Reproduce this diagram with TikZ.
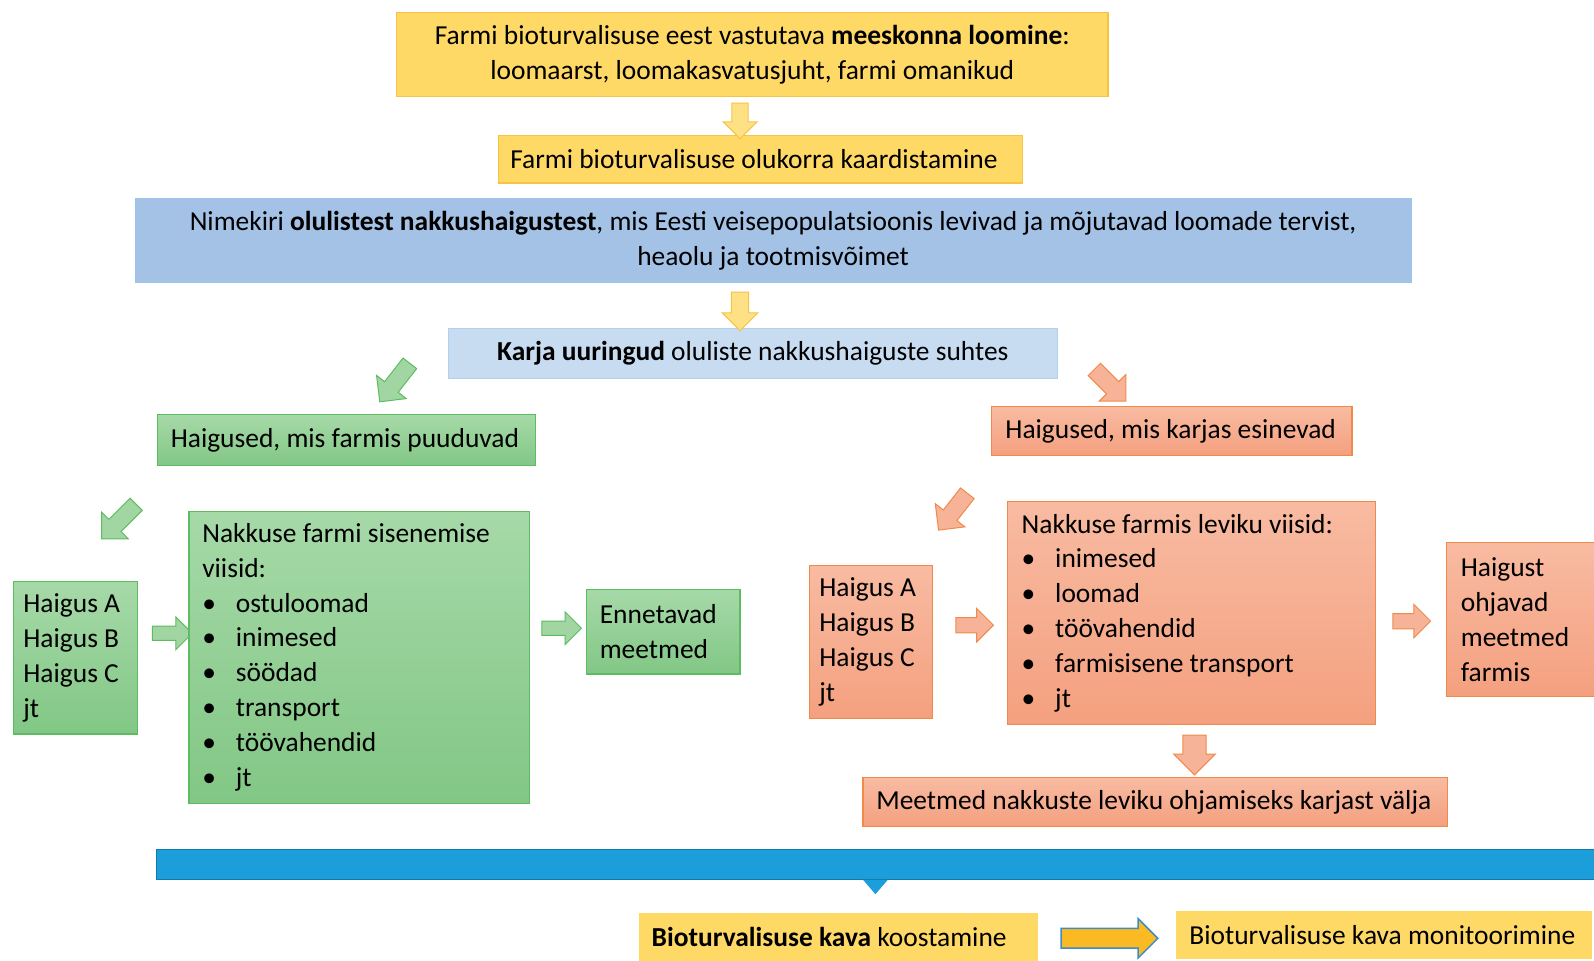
\documentclass[tikz,border=0pt]{standalone}
\usepackage{fontspec}
\setmainfont{Carlito}
\usetikzlibrary{shapes.arrows}

\definecolor{yfill}{HTML}{FFD966}
\definecolor{ybord}{HTML}{F6C344}
\definecolor{bfill}{HTML}{A3C2E6}
\definecolor{bbord}{HTML}{9CC3E8}
\definecolor{lbfill}{HTML}{C8DCF1}
\definecolor{lbbord}{HTML}{B2D0EE}
\definecolor{gtop}{HTML}{A6D9A8}
\definecolor{gbot}{HTML}{82C785}
\definecolor{gbord}{HTML}{5DBB61}
\definecolor{otop}{HTML}{F8BBA2}
\definecolor{obot}{HTML}{F4A07F}
\definecolor{obord}{HTML}{F08A4B}
\definecolor{barfill}{HTML}{1B9ED9}
\definecolor{barbord}{HTML}{1478A8}
\definecolor{kfill}{HTML}{FBBA24}
\definecolor{kbord}{HTML}{3C8CC6}

\newcommand{\itm}[1]{\makebox[33pt][l]{\textbullet}#1}
% one line of text, flush left in a fixed width
\newcommand{\lline}[2]{\makebox[#1pt][l]{#2}}

\tikzset{
    ybox/.style={draw=ybord, fill=yfill, line width=1.2pt, inner sep=0pt},
    bbox/.style={draw=bbord, fill=bfill, line width=1.2pt, inner sep=0pt},
    lbbox/.style={draw=lbbord, fill=lbfill, line width=1.2pt, inner sep=0pt},
    gbox/.style={draw=gbord, top color=gtop, bottom color=gbot, line width=1.2pt, inner ysep=0pt},
    obox/.style={draw=obord, top color=otop, bottom color=obot, line width=1.2pt, inner ysep=0pt},
    % block arrow: length, shaft width, head width
    blk/.style n args={3}{single arrow, inner xsep=0pt, inner ysep=#2/2, minimum height=#1,
        single arrow head extend={(#3-#2)/2}, line width=1pt},
    yarr/.style={draw=ybord, fill=yfill!80!white},
    garr/.style={draw=gbord, fill=gtop!85!gbot},
    oarr/.style={draw=obord, fill=otop!70!obot},
}

\begin{document}
\begin{tikzpicture}[x=1pt, y=-1pt, scale=1.0166, transform shape,
                    font=\fontsize{27}{34.3}\selectfont]
    \useasboundingbox (0,0) rectangle (1568,945.3);

    % top of the plan
    \node[ybox, minimum width=700, minimum height=83, align=center] (team) at (740,53.5)
        {Farmi bioturvalisuse eest vastutava \textbf{meeskonna loomine}:\\
         loomaarst, loomakasvatusjuht, farmi omanikud};
    \node[ybox, inner xsep=12, minimum height=47] (kaart) at (748,156.5)
        {\lline{492}{Farmi bioturvalisuse olukorra kaardistamine}};
    \node[bbox, minimum width=1255, minimum height=83, align=center] (nimek) at (760.5,236.5)
        {Nimekiri \textbf{olulistest nakkushaigustest}, mis Eesti veisepopulatsioonis levivad ja mõjutavad loomade tervist,\\
         heaolu ja tootmisvõimet};
    \node[lbbox, minimum width=599, minimum height=49] (karja) at (740.5,347.5)
        {\textbf{Karja uuringud} oluliste nakkushaiguste suhtes};

    \node[yarr, blk={35}{15}{32}, rotate=-90] (ar1) at (728,115) {};
    \node[yarr, blk={38}{16}{34}, rotate=-90] (ar2) at (728,302) {};

    % left branch: diseases missing from the farm
    \node[garr, blk={48}{16}{36}, rotate=-128] (ag1) at (391,373) {};
    \node[gbox, inner xsep=13, minimum height=50] (puudu) at (341,433)
        {\lline{346}{Haigused, mis farmis puuduvad}};
    \node[garr, blk={48}{16}{36}, rotate=-135] (ag2) at (120,510) {};
    \node[gbox, text width=102, inner xsep=10, minimum height=150, align=flush left] (ghaig) at (74,647)
        {Haigus A\\ Haigus B\\ Haigus C\\ jt};
    \node[garr, blk={39}{13}{31}] (ag3) at (166,623) {};
    \node[gbox, text width=309, inner xsep=13, minimum height=287, align=flush left] (gviis) at (353.5,646.5)
        {Nakkuse farmi sisenemise\\ viisid:\\ \itm{ostuloomad}\\ \itm{inimesed}\\ \itm{söödad}\\
         \itm{transport}\\ \itm{töövahendid}\\ \itm{jt}};
    \node[garr, blk={39}{13}{31}] (ag4) at (549,618) {};
    \node[gbox, text width=125, inner xsep=13, minimum height=83, align=flush left] (ennet) at (652.5,621.5)
        {Ennetavad\\ meetmed};

    % right branch: diseases present in the herd
    \node[oarr, blk={44}{16}{36}, rotate=-45] (ao1) at (1089,376) {};
    \node[obox, inner xsep=14, minimum height=48] (esine) at (1152.5,424)
        {\lline{327}{Haigused, mis karjas esinevad}};
    \node[oarr, blk={46}{16}{36}, rotate=-128] (ao2) at (940,500) {};
    \node[obox, text width=101, inner xsep=10, minimum height=151, align=flush left] (ohaig) at (856.5,631.5)
        {Haigus A\\ Haigus B\\ Haigus C\\ jt};
    \node[oarr, blk={37}{14}{32}] (ao3) at (955,615) {};
    \node[obox, text width=334, inner xsep=14, minimum height=220, align=flush left] (oviis) at (1172,603)
        {Nakkuse farmis leviku viisid:\\ \itm{inimesed}\\ \itm{loomad}\\ \itm{töövahendid}\\
         \itm{farmisisene transport}\\ \itm{jt}};
    \node[oarr, blk={37}{14}{32}] (ao4) at (1385,611) {};
    \node[obox, text width=149, inner xsep=14, minimum height=151, align=flush left] (ohja) at (1511.5,609.5)
        {Haigust\\ ohjavad\\ meetmed\\ farmis};
    \node[oarr, blk={39}{22}{40}, rotate=-90] (ao5) at (1175,737) {};
    \node[obox, inner xsep=13, minimum height=48] (meet) at (1136.5,789)
        {\lline{549}{Meetmed nakkuste leviku ohjamiseks karjast välja}};

    % bottom: the plan
    \node[draw=barbord, fill=barfill, line width=1pt, minimum width=1414, minimum height=29, inner sep=0pt] (bar) at (861,850.5) {};
    \fill[barfill] ([xshift=-12pt]bar.south) -- ([xshift=12pt]bar.south) -- ([yshift=-14pt]bar.south) -- cycle;
    \node[ybox, draw=yfill, inner xsep=12, minimum height=46] (koost) at (824.5,922)
        {\lline{367}{\textbf{Bioturvalisuse kava} koostamine}};
    \node[blk={95}{18}{37}, draw=kbord, fill=kfill, line width=1.5pt] (ak) at (1086.5,923) {};
    \node[ybox, draw=yfill, inner xsep=13, minimum height=46] (monit) at (1361,920)
        {\lline{382}{Bioturvalisuse kava monitoorimine}};
\end{tikzpicture}
\end{document}
